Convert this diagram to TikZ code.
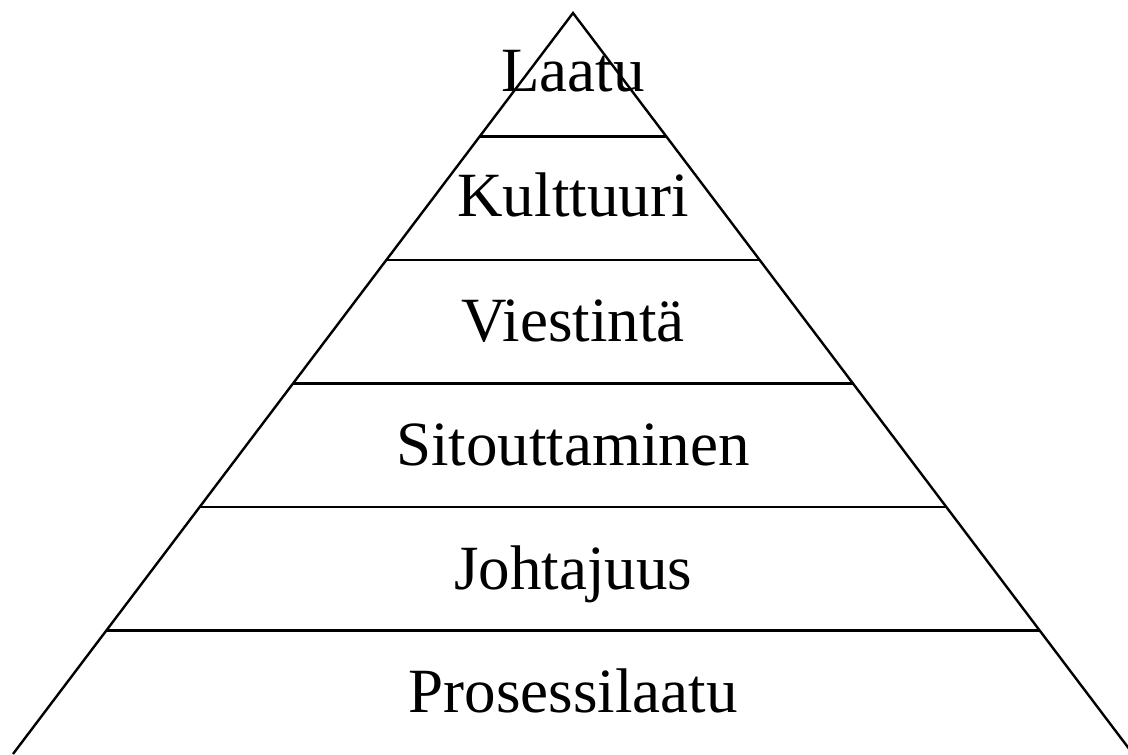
\documentclass[tikz,border=0pt]{standalone}
\usepackage{fontspec}
\setmainfont{Liberation Serif}
\newlength{\du}
\setlength{\du}{0.5pt}
\tikzset{
  tierline/.style={line width=1.2pt, draw=black},
  tiertext/.style={anchor=base, inner sep=0pt, font=\fontsize{31.5}{37}\selectfont}
}

\begin{document}
\begin{tikzpicture}
\pgftransformxscale{1.000000}
\pgftransformyscale{-1.000000}
\useasboundingbox (0\du,0\du) rectangle (1128\du,754\du);
\clip (0\du,0\du) rectangle (1128\du,754\du);
% sides
\draw[tierline] (13.000000\du,754.000000\du)--(573.000000\du,13.000000\du)--(1133.000000\du,754.000000\du);
% tier borders
\draw[tierline] (479.666667\du,136.500000\du)--(666.333333\du,136.500000\du);
\draw[tierline] (386.333333\du,260.000000\du)--(759.666667\du,260.000000\du);
\draw[tierline] (293.000000\du,383.500000\du)--(853.000000\du,383.500000\du);
\draw[tierline] (199.666667\du,507.000000\du)--(946.333333\du,507.000000\du);
\draw[tierline] (106.333333\du,630.500000\du)--(1039.666667\du,630.500000\du);
% tier labels
\node[tiertext] (laatu) at (573.000000\du,92.000000\du){Laatu};
\node[tiertext] (kulttuuri) at (573.000000\du,217.000000\du){Kulttuuri};
\node[tiertext] (viestinta) at (573.000000\du,341.000000\du){Viestintä};
\node[tiertext] (sitouttaminen) at (573.000000\du,465.000000\du){Sitouttaminen};
\node[tiertext] (johtajuus) at (573.000000\du,589.000000\du){Johtajuus};
\node[tiertext] (prosessilaatu) at (573.000000\du,712.000000\du){Prosessilaatu};
\end{tikzpicture}
\end{document}
